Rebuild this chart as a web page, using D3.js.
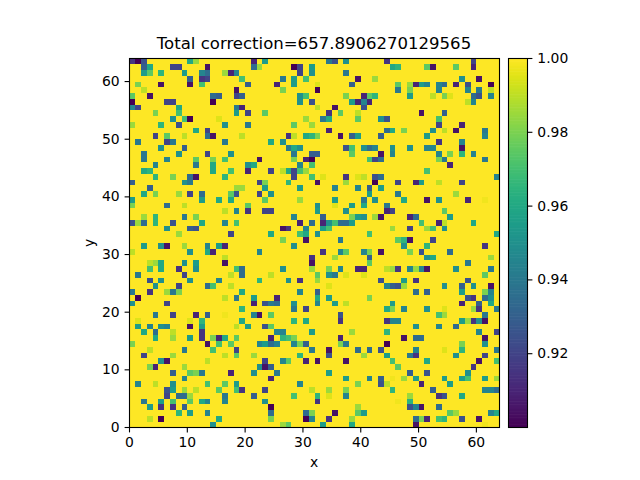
<!DOCTYPE html>
<html>
<head>
<meta charset="utf-8">
<script src="https://cdn.jsdelivr.net/npm/d3@7/dist/d3.min.js"></script>
<style>
html,body{margin:0;padding:0;background:#fff}
svg{display:block}
text{font-family:"DejaVu Sans",sans-serif;fill:#000}
</style>
</head>
<body>
<svg id="chart" width="640" height="480"></svg>
<script>
const titleText = "Total correction=657.8906270129565";
const gridSize = 64;
const xTicks = [0,10,20,30,40,50,60];
const yTicks = [0,10,20,30,40,50,60];
const colorTicks = [0.92,0.94,0.96,0.98,1.00];
const colorDomain = [0.9,1.0];

// Cells below 1.0, one list per row from y=63 down to y=0: [column, value].
// Every cell not listed holds exactly 1.0.
const belowOneRows = [
[[0,.915],[1,.90],[2,.925],[10,.96],[11,.985],[21,.91],[23,.955],[34,.94],[35,.925],[37,.95],[44,.915],[59,.92]],
[[2,.93],[3,.96],[7,.92],[8,.92],[13,.905],[21,.935],[22,.985],[28,.90],[29,.92],[31,.955],[45,.96],[46,.965],[51,.975],[52,.905],[56,.975],[59,.91]],
[[2,.955],[3,.975],[5,.965],[9,.955],[12,.945],[13,.935],[16,.985],[17,.91],[18,.945],[29,.92],[31,.95],[37,.94]],
[[10,.93],[12,.915],[13,.92],[19,.97],[26,.94],[28,.955],[30,.97],[39,.905],[42,.985],[57,.95],[60,.905]],
[[1,.98],[5,.905],[10,.905],[12,.97],[20,.93],[25,.91],[28,.955],[32,.995],[38,.93],[46,.975],[48,.985],[49,.91],[50,.955],[51,.945],[53,.945],[54,.935],[56,.91],[58,.925],[62,.90]],
[[2,.99],[18,.905],[26,.98],[32,.90],[46,.94],[48,.98],[53,.945],[58,.945],[60,.94],[62,.99]],
[[0,.975],[3,.905],[14,.935],[15,.93],[18,.92],[19,.93],[29,.95],[30,.97],[37,.98],[40,.91],[41,.975],[42,.965],[48,.955],[52,.99],[54,.98],[55,.995],[59,.935],[60,.925],[62,.945]],
[[0,.90],[6,.92],[7,.92],[14,.90],[29,.95],[31,.925],[38,.955],[39,.91],[40,.945],[41,.91],[58,.99],[59,.945]],
[[0,.945],[1,.92],[8,.96],[18,.94],[19,.91],[32,.99],[35,.905],[40,.925]],
[[4,.98],[8,.97],[18,.955],[20,.92],[23,.975],[34,.915],[36,.975],[39,.99],[50,.905],[54,.93]],
[[7,.95],[9,.97],[10,.90],[15,.995],[30,.985],[33,.94],[34,.96],[39,.975],[43,.95],[44,.925],[53,.97]],
[[0,.985],[5,.965],[8,.925],[16,.95],[20,.94],[28,.975],[31,.985],[53,.92],[57,.91]],
[[11,.96],[13,.92],[34,.91],[44,.935],[45,.96],[47,.98],[52,.95],[54,.99],[56,.905],[61,.94]],
[[4,.92],[6,.975],[9,.99],[13,.935],[14,.905],[19,.99],[27,.915],[28,.99],[30,.96],[31,.965],[32,.98],[36,.905],[38,.93],[39,.955],[43,.93],[51,.955],[61,.945]],
[[1,.94],[6,.92],[7,.94],[16,.94],[24,.96],[26,.95],[53,.915],[57,.945]],
[[5,.95],[9,.93],[27,.94],[28,.96],[29,.95],[37,.925],[38,.97],[40,.95],[41,.935],[42,.945],[45,.95],[48,.95],[51,.945],[52,.945],[57,.905]],
[[2,.94],[8,.95],[13,.92],[17,.95],[28,.94],[31,.93],[32,.93],[38,.975],[43,.905],[45,.945],[53,.945],[55,.98],[57,.965],[59,.945]],
[[2,.94],[6,.945],[11,.975],[14,.98],[16,.97],[22,.905],[28,.98],[30,.91],[31,.90],[41,.97],[42,.92],[43,.935],[53,.98],[54,.94],[61,.94]],
[[4,.945],[11,.94],[14,.96],[20,.95],[21,.96],[29,.945],[31,.97],[55,.91]],
[[2,.96],[3,.965],[14,.96],[17,.97],[20,.91],[24,.92],[26,.99],[27,.96],[28,.92],[29,.97],[30,.985],[51,.97]],
[[4,.965],[7,.98],[10,.935],[11,.905],[16,.965],[28,.92],[31,.97],[33,.995],[37,.915],[39,.995],[40,.99],[42,.925],[43,.935],[63,.945]],
[[0,.93],[9,.95],[10,.94],[22,.92],[23,.98],[27,.965],[32,.905],[37,.985],[42,.90],[46,.92],[49,.91],[50,.955],[53,.99],[57,.92]],
[[3,.93],[18,.985],[19,.985],[23,.955],[29,.955],[35,.945],[39,.945],[41,.93],[43,.955]],
[[2,.96],[4,.98],[8,.985],[10,.92],[12,.935],[17,.975],[18,.925],[22,.92],[24,.95],[41,.955],[46,.94],[56,.985]],
[[0,.955],[12,.955],[15,.96],[17,.96],[23,.975],[29,.985],[35,.955],[40,.94],[42,.95],[47,.96],[51,.905],[53,.95],[58,.91],[61,.998]],
[[0,.98],[6,.935],[9,.99],[20,.975],[32,.95],[35,.995],[38,.955],[40,.96],[44,.94]],
[[16,.99],[18,.945],[20,.915],[23,.92],[24,.92],[32,.955],[37,.95],[44,.91],[45,.92],[54,.975]],
[[2,.985],[4,.965],[9,.94],[11,.98],[28,.945],[33,.93],[38,.98],[39,.955],[40,.95],[42,.985],[43,.905],[48,.91],[49,.935],[55,.955]],
[[0,.925],[1,.985],[2,.935],[4,.965],[7,.925],[12,.96],[16,.945],[18,.97],[29,.91],[31,.935],[33,.91],[34,.95],[35,.97],[36,.935],[37,.935],[38,.955],[50,.97],[53,.91],[54,.99],[59,.96]],
[[6,.95],[10,.93],[11,.925],[26,.905],[27,.915],[30,.945],[33,.955],[34,.97],[45,.985],[48,.92],[51,.985],[52,.97],[54,.95]],
[[8,.985],[17,.92],[24,.96],[29,.97],[30,.96],[32,.95],[41,.97],[63,.96]],
[[26,.98],[30,.905],[36,.94],[46,.975],[47,.965],[48,.905],[52,.92]],
[[2,.955],[5,.95],[6,.905],[9,.985],[13,.945],[15,.955],[16,.91],[28,.95],[47,.95],[51,.965],[61,.915]],
[[0,.99],[10,.95],[13,.96],[14,.91],[22,.945],[33,.915],[36,.945],[37,.975],[40,.945],[41,.98],[43,.905],[48,.98],[50,.925],[55,.935]],
[[16,.99],[31,.915],[35,.985],[41,.93],[51,.95],[52,.96],[62,.985]],
[[3,.99],[4,.985],[5,.96],[9,.95],[11,.955],[16,.905],[31,.905],[41,.975],[58,.94]],
[[3,.97],[5,.96],[8,.915],[11,.95],[18,.97],[19,.935],[26,.95],[31,.985],[34,.98],[36,.945],[39,.91],[40,.91],[44,.99],[45,.985],[46,.915],[48,.945],[49,.985],[50,.945],[51,.905],[56,.95],[62,.94]],
[[1,.94],[9,.92],[17,.99],[19,.935],[24,.99],[32,.975],[34,.95],[35,.94],[37,.995],[40,.995],[61,.975]],
[[3,.925],[5,.95],[10,.95],[15,.945],[22,.965],[27,.95],[29,.915],[32,.985],[43,.925],[47,.955],[49,.915],[58,.925]],
[[4,.95],[8,.92],[13,.935],[14,.97],[17,.99],[34,.995],[44,.945],[45,.93],[46,.925],[47,.985],[54,.95],[57,.93],[59,.95],[62,.905]],
[[0,.94],[3,.915],[6,.985],[7,.94],[8,.98],[19,.96],[29,.945],[32,.93],[49,.935],[51,.93],[57,.955],[61,.98],[62,.945]],
[[1,.90],[16,.99],[18,.94],[21,.955],[25,.91],[32,.96],[34,.955],[41,.98],[58,.925],[59,.915],[61,.935],[62,.95]],
[[0,.95],[6,.92],[21,.91],[23,.925],[24,.94],[25,.935],[28,.95],[32,.945],[35,.955],[37,.99],[45,.955],[57,.91],[60,.93],[62,.96]],
[[19,.965],[28,.94],[30,.92],[44,.96],[45,.98],[47,.945],[51,.95],[54,.995],[59,.985],[60,.915],[63,.94]],
[[4,.94],[7,.92],[11,.91],[13,.93],[16,.998],[21,.945],[22,.905],[24,.975],[36,.925],[53,.97],[54,.985],[61,.94]],
[[1,.995],[10,.995],[12,.965],[19,.96],[28,.965],[30,.96],[36,.915],[44,.915],[45,.945],[46,.945],[57,.955],[58,.985],[59,.915],[60,.95],[61,.905]],
[[1,.955],[3,.945],[5,.95],[6,.945],[10,.905],[12,.955],[18,.99],[20,.955],[23,.925],[24,.975],[49,.95],[53,.945],[56,.935]],
[[2,.96],[4,.935],[7,.99],[12,.915],[25,.945],[26,.945],[31,.955],[38,.985],[44,.965],[60,.945],[63,.92]],
[[4,.96],[7,.985],[10,.955],[12,.915],[14,.98],[15,.91],[16,.96],[18,.975],[24,.91],[26,.965],[27,.97],[28,.98],[36,.91],[47,.905],[49,.935],[50,.935],[61,.905]],
[[0,.98],[13,.905],[15,.97],[17,.975],[22,.945],[23,.955],[24,.935],[25,.945],[28,.945],[29,.98],[30,.93],[36,.98],[37,.94],[44,.90],[57,.98],[61,.95]],
[[3,.99],[9,.94],[14,.97],[18,.92],[31,.94],[34,.905],[39,.935],[41,.935],[43,.925],[49,.945],[54,.995],[57,.965],[63,.94]],
[[2,.92],[7,.985],[16,.99],[18,.975],[21,.985],[29,.965],[34,.925],[40,.985],[44,.955],[48,.94],[49,.915],[56,.95],[61,.92]],
[[5,.95],[6,.905],[13,.99],[23,.92],[26,.945],[27,.975],[30,.91],[32,.905],[37,.905],[45,.97],[51,.96],[60,.905],[63,.97]],
[[3,.98],[4,.91],[9,.985],[22,.95],[23,.905],[24,.93],[46,.975],[59,.915]],
[[7,.93],[10,.975],[11,.98],[12,.94],[17,.91],[21,.95],[25,.94],[34,.955],[48,.93],[51,.925],[58,.95]],
[[9,.945],[24,.91],[37,.955],[41,.945],[43,.93],[45,.998],[47,.985],[49,.955],[54,.955],[57,.955],[58,.97],[61,.955],[63,.985]],
[[1,.945],[4,.99],[7,.95],[13,.97],[16,.975],[18,.955],[29,.945],[39,.98],[43,.925],[44,.99],[50,.91],[55,.955]],
[[6,.925],[7,.955],[9,.985],[11,.99],[15,.975],[18,.97],[19,.915],[23,.92],[31,.99],[34,.985],[37,.98],[45,.965],[52,.93],[61,.945],[62,.945],[63,.935]],
[[6,.92],[8,.935],[9,.935],[10,.985],[16,.94],[21,.93],[28,.97],[32,.965],[34,.995],[37,.945],[48,.985],[53,.915],[54,.925],[57,.96]],
[[2,.94],[5,.955],[7,.97],[10,.975],[12,.96],[13,.945],[16,.945],[23,.95],[32,.915],[46,.998],[48,.965]],
[[3,.955],[5,.915],[7,.915],[9,.93],[24,.90],[39,.985],[48,.925],[49,.945],[50,.905],[53,.935]],
[[8,.965],[10,.955],[13,.945],[24,.935],[30,.935],[31,.98],[35,.905],[39,.975],[40,.955],[55,.975],[56,.985],[62,.945],[63,.96]],
[[3,.99],[5,.90],[15,.96],[24,.98],[30,.90],[31,.945],[34,.915],[38,.985],[49,.935],[50,.98],[51,.91],[53,.97],[54,.965],[57,.925],[60,.905]],
[[14,.95],[26,.985],[27,.975],[33,.955],[38,.96],[49,.905],[61,.998]]
];

const svg = d3.select("#chart");
const plot = {left:129.5, right:499.5, top:58.5, bottom:427.5};
const bar = {left:508.5, right:527.5};

const x = d3.scaleLinear().domain([0,gridSize]).range([plot.left,plot.right]);
const y = d3.scaleLinear().domain([0,gridSize]).range([plot.bottom,plot.top]);
const color = d3.scaleSequential(d3.interpolateViridis).domain(colorDomain);
const barY = d3.scaleLinear().domain(colorDomain).range([plot.bottom,plot.top]);

// Heat map: background of 1.0 cells, then the cells below 1.0 on top.
const cells = belowOneRows.flatMap((row,i) => row.map(([col,value]) => ({col,row:gridSize-1-i,value})));
svg.append("rect")
  .attr("x",x(0)).attr("y",y(gridSize))
  .attr("width",x(gridSize)-x(0)).attr("height",y(0)-y(gridSize))
  .attr("fill",color(1));
svg.append("g").attr("shape-rendering","crispEdges")
  .selectAll("rect").data(cells).join("rect")
  .attr("x",d=>x(d.col)).attr("y",d=>y(d.row+1))
  .attr("width",d=>x(d.col+1)-x(d.col)).attr("height",d=>y(d.row)-y(d.row+1))
  .attr("fill",d=>color(d.value));

// Axes
function styleAxis(g){
  g.attr("font-family",null).attr("font-size",null);
  g.selectAll(".domain").remove();
  g.selectAll("line").attr("stroke","#000").attr("stroke-width",1.1);
  g.selectAll("text").style("font-size","13.9px");
}
svg.append("g").attr("transform",`translate(0,${plot.bottom})`)
  .call(d3.axisBottom(x).tickValues(xTicks).tickSize(4.9).tickPadding(4.9).tickFormat(d3.format("d")).offset(0))
  .call(styleAxis);
svg.append("g").attr("transform",`translate(${plot.left},0)`)
  .call(d3.axisLeft(y).tickValues(yTicks).tickSize(4.9).tickPadding(4.9).tickFormat(d3.format("d")).offset(0))
  .call(styleAxis);
svg.append("rect")
  .attr("x",plot.left).attr("y",plot.top)
  .attr("width",plot.right-plot.left).attr("height",plot.bottom-plot.top)
  .attr("fill","none").attr("stroke","#000").attr("stroke-width",1.1);

// Colour bar
const barSteps = d3.range(0,256).map(i => colorDomain[0]+(colorDomain[1]-colorDomain[0])*i/256);
const stepWidth = (colorDomain[1]-colorDomain[0])/256;
svg.append("g").selectAll("rect").data(barSteps).join("rect")
  .attr("x",bar.left).attr("width",bar.right-bar.left)
  .attr("y",d=>barY(d+stepWidth)-0.3)
  .attr("height",d=>barY(d)-barY(d+stepWidth)+0.6)
  .attr("fill",d=>color(d+stepWidth/2));
svg.append("g").attr("transform",`translate(${bar.right},0)`)
  .call(d3.axisRight(barY).tickValues(colorTicks).tickSize(4.9).tickPadding(4.9).tickFormat(d3.format(".2f")).offset(0))
  .call(styleAxis);
svg.append("rect")
  .attr("x",bar.left).attr("y",plot.top)
  .attr("width",bar.right-bar.left).attr("height",plot.bottom-plot.top)
  .attr("fill","none").attr("stroke","#000").attr("stroke-width",1.1);

// Titles
svg.append("text").attr("x",314).attr("y",49).attr("text-anchor","middle")
  .style("font-size","16.55px").text(titleText);
svg.append("text").attr("x",314).attr("y",467).attr("text-anchor","middle")
  .style("font-size","13.9px").text("x");
svg.append("text").attr("transform","translate(94,243) rotate(-90)").attr("text-anchor","middle")
  .style("font-size","13.9px").text("y");
</script>
</body>
</html>
